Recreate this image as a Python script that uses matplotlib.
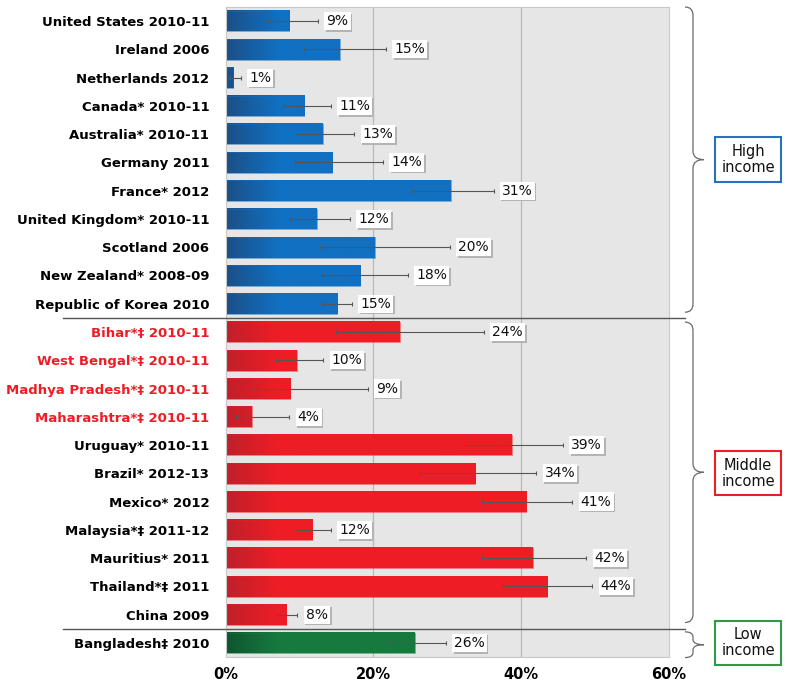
import numpy as np
import matplotlib
matplotlib.use("Agg")
import matplotlib.pyplot as plt
from matplotlib.path import Path
from matplotlib.patches import PathPatch, Rectangle
from matplotlib import transforms
from matplotlib import patheffects


countries = [
    "United States 2010-11", "Ireland 2006", "Netherlands 2012",
    "Canada* 2010-11", "Australia* 2010-11", "Germany 2011",
    "France* 2012", "United Kingdom* 2010-11", "Scotland 2006",
    "New Zealand* 2008-09", "Republic of Korea 2010",
    "Bihar*‡ 2010-11", "West Bengal*‡ 2010-11", "Madhya Pradesh*‡ 2010-11",
    "Maharashtra*‡ 2010-11", "Uruguay* 2010-11", "Brazil* 2012-13",
    "Mexico* 2012", "Malaysia*‡ 2011-12", "Mauritius* 2011",
    "Thailand*‡ 2011", "China 2009", "Bangladesh‡ 2010",
]
values = [8.6, 15.4, 1.0, 10.6, 13.1, 14.4, 30.5, 12.3, 20.2, 18.2, 15.1,
          23.6, 9.6, 8.7, 3.5, 38.8, 33.8, 40.7, 11.7, 41.6, 43.6, 8.2, 25.6]
err_low = [5.7, 10.6, 0.45, 7.8, 9.7, 9.4, 25.2, 8.7, 12.8, 13.0, 13.0,
           14.9, 6.8, 3.7, 1.4, 32.4, 26.2, 34.7, 9.7, 34.7, 37.6, 6.9, 22.0]
err_high = [12.5, 21.7, 2.0, 14.2, 17.4, 21.3, 36.3, 16.8, 30.4, 24.7, 17.1,
            35.0, 13.2, 19.2, 8.6, 45.7, 42.1, 47.0, 14.2, 48.9, 49.7, 9.7, 29.8]
value_labels = ["9%", "15%", "1%", "11%", "13%", "14%", "31%", "12%", "20%",
                "18%", "15%", "24%", "10%", "9%", "4%", "39%", "34%", "41%",
                "12%", "42%", "44%", "8%", "26%"]
groups = ["high"] * 11 + ["middle"] * 11 + ["low"]
red_label_rows = [11, 12, 13, 14]
x_ticks = [0, 20, 40, 60]

GROUP_COLORS = {
    "high": ("#1c4f86", "#1170c2"),
    "middle": ("#c0202a", "#ee1d25"),
    "low": ("#0f5530", "#167a3d"),
}
BOX_COLORS = {"high": "#2a6fc0", "middle": "#ee1d25", "low": "#2e9a48"}

fig = plt.figure(figsize=(7.89, 6.86), dpi=100)
ax = fig.add_axes([226 / 789, 1 - 657 / 686, 443 / 789, 650 / 686])
ax.set_facecolor("#e6e6e6")
ax.set_xlim(0, 60.1)
ax.set_ylim(len(countries) - 0.5, -0.5)

for x in [20, 40]:
    ax.axvline(x, color="#b8b8b8", lw=0.9, zorder=1)

bar_h = 0.73
shadow = [patheffects.SimplePatchShadow(offset=(1.2, -1.2),
                                        shadow_rgbFace="#b4b4b4", alpha=1),
          patheffects.Normal()]
for i, (v, lo, hi) in enumerate(zip(values, err_low, err_high)):
    dark, light = GROUP_COLORS[groups[i]]
    c0 = np.array(matplotlib.colors.to_rgb(dark))
    c1 = np.array(matplotlib.colors.to_rgb(light))
    xs = np.linspace(0, v, 200)
    t = np.clip(xs / 7.0, 0, 1)[None, :, None]
    img = c0 + (c1 - c0) * t
    ax.imshow(img, extent=[0, v, i + bar_h / 2, i - bar_h / 2],
              aspect="auto", interpolation="bilinear", zorder=2)
    ax.add_patch(Rectangle((0, i - bar_h / 2), v, bar_h, fill=False,
                           edgecolor=light, lw=0.6, zorder=2.5, alpha=0.6))
    ax.errorbar(v, i, xerr=[[v - lo], [hi - v]], fmt="none",
                ecolor="#555555", elinewidth=0.8, capsize=1.5, capthick=0.8,
                zorder=3)
    lab = ax.annotate(value_labels[i], (hi, i), xytext=(6, 0),
                      textcoords="offset points", va="center", ha="left",
                      fontsize=10, color="#111111", zorder=4,
                      bbox=dict(boxstyle="square,pad=0.15", fc="white",
                                ec="none"))
    lab.get_bbox_patch().set_path_effects(shadow)

ax.set_yticks(range(len(countries)))
ax.set_yticklabels(countries, fontsize=9.5, fontweight="bold")
for i, lab in enumerate(ax.get_yticklabels()):
    if i in red_label_rows:
        lab.set_color("#ee1d25")
ax.set_xticks(x_ticks)
ax.set_xticklabels([f"{x}%" for x in x_ticks], fontsize=10.5, fontweight="bold")
ax.tick_params(axis="both", length=0)
ax.tick_params(axis="y", pad=12)
ax.tick_params(axis="x", pad=7)
for s in ax.spines.values():
    s.set_color("#c8c8c8")
    s.set_linewidth(0.8)

# separators between income groups
sep_tr = transforms.blended_transform_factory(fig.transFigure, ax.transData)
for y in [10.5, 21.5]:
    ax.plot([63 / 789, 685 / 789], [y, y], transform=sep_tr, color="#555555",
            lw=1.0, clip_on=False, zorder=5)


def brace(y_top, y_bot, r):
    xl = 693 / 789
    hw = 8 / 789
    tw = 11 / 789
    ym = (y_top + y_bot) / 2
    verts = [
        (xl - hw, y_top), (xl, y_top), (xl, y_top + r),
        (xl, ym - r), (xl, ym), (xl + tw, ym),
        (xl, ym), (xl, ym + r),
        (xl, y_bot - r), (xl, y_bot), (xl - hw, y_bot),
    ]
    codes = [Path.MOVETO, Path.CURVE3, Path.CURVE3,
             Path.LINETO, Path.CURVE3, Path.CURVE3,
             Path.CURVE3, Path.CURVE3,
             Path.LINETO, Path.CURVE3, Path.CURVE3]
    patch = PathPatch(Path(verts, codes), fill=False, edgecolor="#6a6a6a",
                      lw=0.9, transform=sep_tr, clip_on=False)
    ax.add_patch(patch)


brace(-0.5, 10.3, 0.3)
brace(10.65, 21.28, 0.3)
brace(21.61, 22.52, 0.18)

for key, text, y in [("high", "High\nincome", 4.9),
                     ("middle", "Middle\nincome", 16.0),
                     ("low", "Low\nincome", 22.0)]:
    ax.text(748 / 789, y, text, transform=sep_tr, ha="center", va="center",
            fontsize=10.5, linespacing=1.1, color="#111111", clip_on=False,
            bbox=dict(boxstyle="square,pad=0.45", fc="white",
                      ec=BOX_COLORS[key], lw=1.5))

fig.savefig("out.png", dpi=100, facecolor="white")
